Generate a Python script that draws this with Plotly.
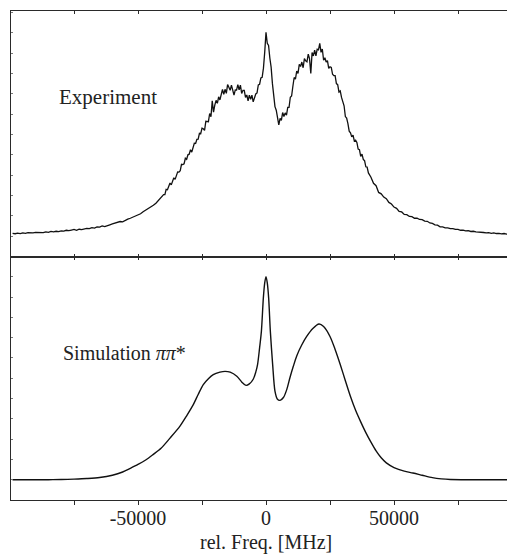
import plotly.graph_objects as go
from plotly.subplots import make_subplots

# ---------------- data ----------------
# Experiment: relative frequency (in 1000 MHz) and intensity (arb. units)
exp_freq_k = [
    -99, -98, -97, -96, -95, -94, -93, -92, -91, -90,
    -89, -88, -87, -86, -85, -84, -83, -82, -81, -80,
    -79, -78, -77, -76, -75, -74, -73, -72, -71, -70,
    -69, -68, -67, -66, -65, -64, -63, -62, -61, -60,
    -59, -58, -57, -56, -55, -54, -53, -52, -51, -50,
    -49, -48, -47, -46, -45, -44, -43, -42, -41,
    -40.0, -39.5, -39.0, -38.5, -38.0, -37.5, -37.0, -36.5, -36.0, -35.5,
    -35.0, -34.5, -34.0, -33.5, -33.0, -32.5, -32.0, -31.5, -31.0, -30.5,
    -30.0, -29.5, -29.0, -28.5, -28.0, -27.5, -27.0, -26.5, -26.0, -25.5,
    -25.0, -24.5, -24.0, -23.5, -23.0, -22.5, -22.0, -21.5, -21.0, -20.5,
    -20.0, -19.5, -19.0, -18.5, -18.0, -17.5, -17.0, -16.5, -16.0, -15.5,
    -15.0, -14.5, -14.0, -13.5, -13.0, -12.5, -12.0, -11.5, -11.0, -10.5,
    -10.0, -9.5, -9.0, -8.5, -8.0, -7.5, -7.0, -6.5, -6.0, -5.5,
    -5.0, -4.5, -4.0, -3.5, -3.0, -2.5, -2.0, -1.5, -1.0, -0.5,
    0.0, 0.5, 1.0, 1.5, 2.0, 2.5, 3.0, 3.5, 4.0, 4.5,
    5.0, 5.5, 6.0, 6.5, 7.0, 7.5, 8.0, 8.5, 9.0, 9.5,
    10.0, 10.5, 11.0, 11.5, 12.0, 12.5, 13.0, 13.5, 14.0, 14.5,
    15.0, 15.5, 16.0, 16.5, 17.0, 17.5, 18.0, 18.5, 19.0, 19.5,
    20.0, 20.5, 21.0, 21.5, 22.0, 22.5, 23.0, 23.5, 24.0, 24.5,
    25.0, 25.5, 26.0, 26.5, 27.0, 27.5, 28.0, 28.5, 29.0, 29.5,
    30.0, 30.5, 31.0, 31.5, 32.0, 32.5, 33.0, 33.5, 34.0, 34.5,
    35.0, 35.5, 36.0, 36.5, 37.0, 37.5, 38.0, 38.5, 39.0, 39.5,
    40.0,
    41, 42, 43, 44, 45, 46, 47, 48, 49, 50,
    51, 52, 53, 54, 55, 56, 57, 58, 59, 60,
    61, 62, 63, 64, 65, 66, 67, 68, 69, 70,
    71, 72, 73, 74, 75, 76, 77, 78, 79, 80,
    81, 82, 83, 84, 85, 86, 87, 88, 89, 90,
    91, 92, 93, 94, 95, 96, 97,
]
exp_intensity = [
    1.14, 1.12, 1.15, 1.13, 1.16, 1.14, 1.17, 1.15, 1.16, 1.19,
    1.18, 1.20, 1.17, 1.21, 1.19, 1.23, 1.21, 1.24, 1.22, 1.26,
    1.25, 1.29, 1.27, 1.30, 1.33, 1.29, 1.34, 1.32, 1.36, 1.38,
    1.37, 1.42, 1.40, 1.45, 1.44, 1.50, 1.47, 1.53, 1.56, 1.60,
    1.63, 1.68, 1.72, 1.70, 1.79, 1.84, 1.88, 1.93, 1.98, 2.06,
    2.10, 2.20, 2.27, 2.35, 2.45, 2.52, 2.62, 2.75, 2.86,
    3.04, 3.04, 3.30, 3.28, 3.41, 3.61, 3.52, 3.69, 3.87, 3.79,
    4.02, 4.16, 4.15, 4.22, 4.53, 4.52, 4.56, 4.83, 4.78, 5.00,
    5.03, 5.25, 5.13, 5.42, 5.57, 5.56, 5.76, 5.77, 6.06, 6.04,
    6.31, 6.28, 6.20, 6.65, 6.64, 6.63, 7.03, 6.87, 7.65, 7.10,
    7.44, 7.68, 7.53, 7.85, 7.70, 7.96, 8.22, 7.97, 8.22, 8.02,
    8.45, 8.32, 8.17, 8.43, 8.16, 7.93, 8.19, 8.18, 8.45, 8.19,
    8.43, 8.02, 8.17, 8.17, 7.82, 7.94, 7.65, 7.93, 7.73, 7.93,
    7.60, 7.82, 7.99, 8.04, 8.44, 8.47, 8.78, 8.81, 9.26, 10.05,
    11.02, 10.48, 10.38, 9.76, 9.31, 8.51, 8.03, 7.37, 7.19, 6.77,
    6.47, 6.79, 6.69, 7.08, 6.88, 7.06, 6.95, 7.33, 7.33, 7.83,
    7.89, 8.37, 8.80, 8.72, 9.12, 9.00, 9.45, 9.34, 9.56, 9.28,
    9.73, 9.62, 9.57, 9.95, 9.73, 9.00, 10.03, 9.86, 10.15, 9.87,
    10.19, 10.16, 10.48, 10.04, 10.20, 9.65, 9.77, 9.56, 9.63, 9.25,
    9.33, 9.30, 8.96, 8.89, 8.89, 8.50, 8.45, 8.09, 8.14, 7.82,
    7.54, 7.41, 6.88, 6.81, 6.53, 6.16, 6.08, 5.88, 5.97, 5.68,
    5.72, 5.61, 5.28, 5.25, 4.92, 5.03, 4.77, 4.71, 4.41, 4.40,
    4.11,
    3.90, 3.60, 3.48, 3.15, 3.08, 2.92, 2.84, 2.66, 2.58, 2.43,
    2.37, 2.22, 2.19, 2.07, 2.06, 1.97, 1.96, 1.88, 1.89, 1.82,
    1.81, 1.74, 1.73, 1.65, 1.63, 1.56, 1.54, 1.46, 1.46, 1.41,
    1.41, 1.37, 1.37, 1.33, 1.33, 1.29, 1.30, 1.26, 1.27, 1.23,
    1.24, 1.21, 1.21, 1.18, 1.18, 1.16, 1.17, 1.14, 1.16, 1.13,
    1.14, 1.11, 1.13, 1.10, 1.12, 1.09, 1.11,
]

# Simulation (pi pi*): relative frequency (in 1000 MHz) and intensity
sim_freq_k = [
    -99, -85, -80, -75, -70, -65, -60, -56, -53, -50,
    -47, -44, -41, -37.5, -33.6, -31, -28.4, -26.5, -24.5, -22.5,
    -20.6, -18, -16, -14, -11.4, -9.5, -7.8, -6.5, -5.0, -4.0,
    -3.3, -2.5, -1.8, -1.04, -0.5, 0, 0.5, 1.04, 1.7, 2.6,
    3.5, 4.4, 5.5, 6.8, 8.1, 9.4, 10.7, 12.0, 14, 15.9,
    18.3, 20.7, 22.5, 25.0, 27, 29, 31, 33, 35, 37,
    39, 41, 43, 45, 47, 50, 54, 57.4, 61, 65,
    68.5, 72, 80, 97,
]
sim_intensity = [
    1.0, 1.0, 1.01, 1.03, 1.06, 1.11, 1.22, 1.38, 1.56, 1.75,
    1.97, 2.25, 2.55, 3.05, 3.64, 4.15, 4.70, 5.2, 5.69, 5.98,
    6.18, 6.30, 6.34, 6.30, 6.10, 5.82, 5.65, 5.72, 5.95, 6.3,
    6.67, 7.5, 8.31, 9.95, 10.7, 11.01, 10.7, 9.95, 8.31, 6.67,
    5.36, 4.98, 4.91, 5.05, 5.44, 6.05, 6.6, 7.1, 7.65, 8.06,
    8.45, 8.67, 8.55, 8.06, 7.42, 6.68, 5.88, 5.10, 4.42, 3.85,
    3.32, 2.85, 2.42, 2.08, 1.83, 1.6, 1.42, 1.33, 1.22, 1.1,
    1.04, 1.01, 1.0, 1.0,
]

x_tick_vals = [-50000, 0, 50000]
x_tick_text = ["-50000", "0", "50000"]

exp_freq = [v * 1000 for v in exp_freq_k]
sim_freq = [v * 1000 for v in sim_freq_k]

# ---------------- figure ----------------
# The page body has an 8px margin, so the figure is sized/offset to compensate.
FONT = "Liberation Serif, Times New Roman, serif"
AX = "#2a2a2a"
X_RANGE = [-99609, 97266]

fig = make_subplots(rows=2, cols=1, shared_xaxes=True, vertical_spacing=0)

fig.add_trace(go.Scatter(x=exp_freq, y=exp_intensity, mode="lines",
                         line=dict(color="#111111", width=1.3),
                         showlegend=False, hoverinfo="skip"), row=1, col=1)
fig.add_trace(go.Scatter(x=sim_freq, y=sim_intensity, mode="lines",
                         line=dict(color="#111111", width=1.4, shape="spline", smoothing=0.8),
                         showlegend=False, hoverinfo="skip"), row=2, col=1)

split = (500 - 256.5) / 489.0

fig.update_layout(
    width=507, height=547,
    margin=dict(l=3, r=0, t=3, b=55),
    paper_bgcolor="white", plot_bgcolor="white",
    font=dict(family=FONT, size=20, color="#222"),
    xaxis=dict(range=X_RANGE, showline=True, linecolor=AX, linewidth=1,
               mirror="ticks", ticks="inside", ticklen=3, tickcolor=AX,
               tickvals=x_tick_vals, showticklabels=False, showgrid=False,
               zeroline=False,
               minor=dict(dtick=25000, tick0=0, ticks="inside", ticklen=3, tickcolor=AX, showgrid=False)),
    yaxis=dict(domain=[split, 1], range=[0, 12.07], showline=True, linecolor=AX,
               linewidth=1, ticks="inside", ticklen=2, tickcolor="#777",
               tick0=0, dtick=1, showticklabels=False, showgrid=False, zeroline=False),
    xaxis2=dict(range=X_RANGE, showline=True, linecolor=AX, linewidth=1,
                ticks="outside", ticklen=4, tickcolor=AX,
                tickvals=x_tick_vals, ticktext=x_tick_text, ticklabelstandoff=-4,
                tickfont=dict(family=FONT, size=20, color="#222"),
                showgrid=False, zeroline=False,
                minor=dict(dtick=25000, tick0=0, ticks="outside", ticklen=4, tickcolor=AX, showgrid=False)),
    yaxis2=dict(domain=[0, split], range=[0, 12], showline=True, linecolor=AX,
                linewidth=1, ticks="inside", ticklen=2, tickcolor="#777",
                tick0=0, dtick=1, showticklabels=False, showgrid=False, zeroline=False),
    xaxis3=dict(overlaying="x2", anchor="y2", side="top", matches="x2",
                range=X_RANGE, showline=True, linecolor=AX, linewidth=1,
                ticks="inside", ticklen=3, tickcolor=AX, tickvals=x_tick_vals,
                showticklabels=False, showgrid=False, zeroline=False,
                minor=dict(dtick=25000, tick0=0, ticks="inside", ticklen=3, tickcolor=AX, showgrid=False)),
)

# invisible trace to activate the top axis line of the lower panel
fig.add_trace(go.Scatter(x=[X_RANGE[0]], y=[0], xaxis="x3", yaxis="y2",
                         mode="markers", marker=dict(opacity=0),
                         showlegend=False, hoverinfo="skip"))

fig.add_annotation(x=-81640, y=7.85, xref="x", yref="y", text="Experiment",
                   showarrow=False, xanchor="left", yanchor="middle",
                   font=dict(family=FONT, size=21, color="#222"))
fig.add_annotation(x=-80200, y=7.26, xref="x2", yref="y2", text="Simulation <i>ππ</i>*",
                   showarrow=False, xanchor="left", yanchor="middle",
                   font=dict(family=FONT, size=20, color="#222"))
fig.add_annotation(x=0, y=0, xref="x2", yref="paper", text="rel. Freq. [MHz]",
                   showarrow=False, xanchor="center", yanchor="middle", yshift=-42,
                   font=dict(family=FONT, size=20, color="#222"))

fig.write_html("out.html")
